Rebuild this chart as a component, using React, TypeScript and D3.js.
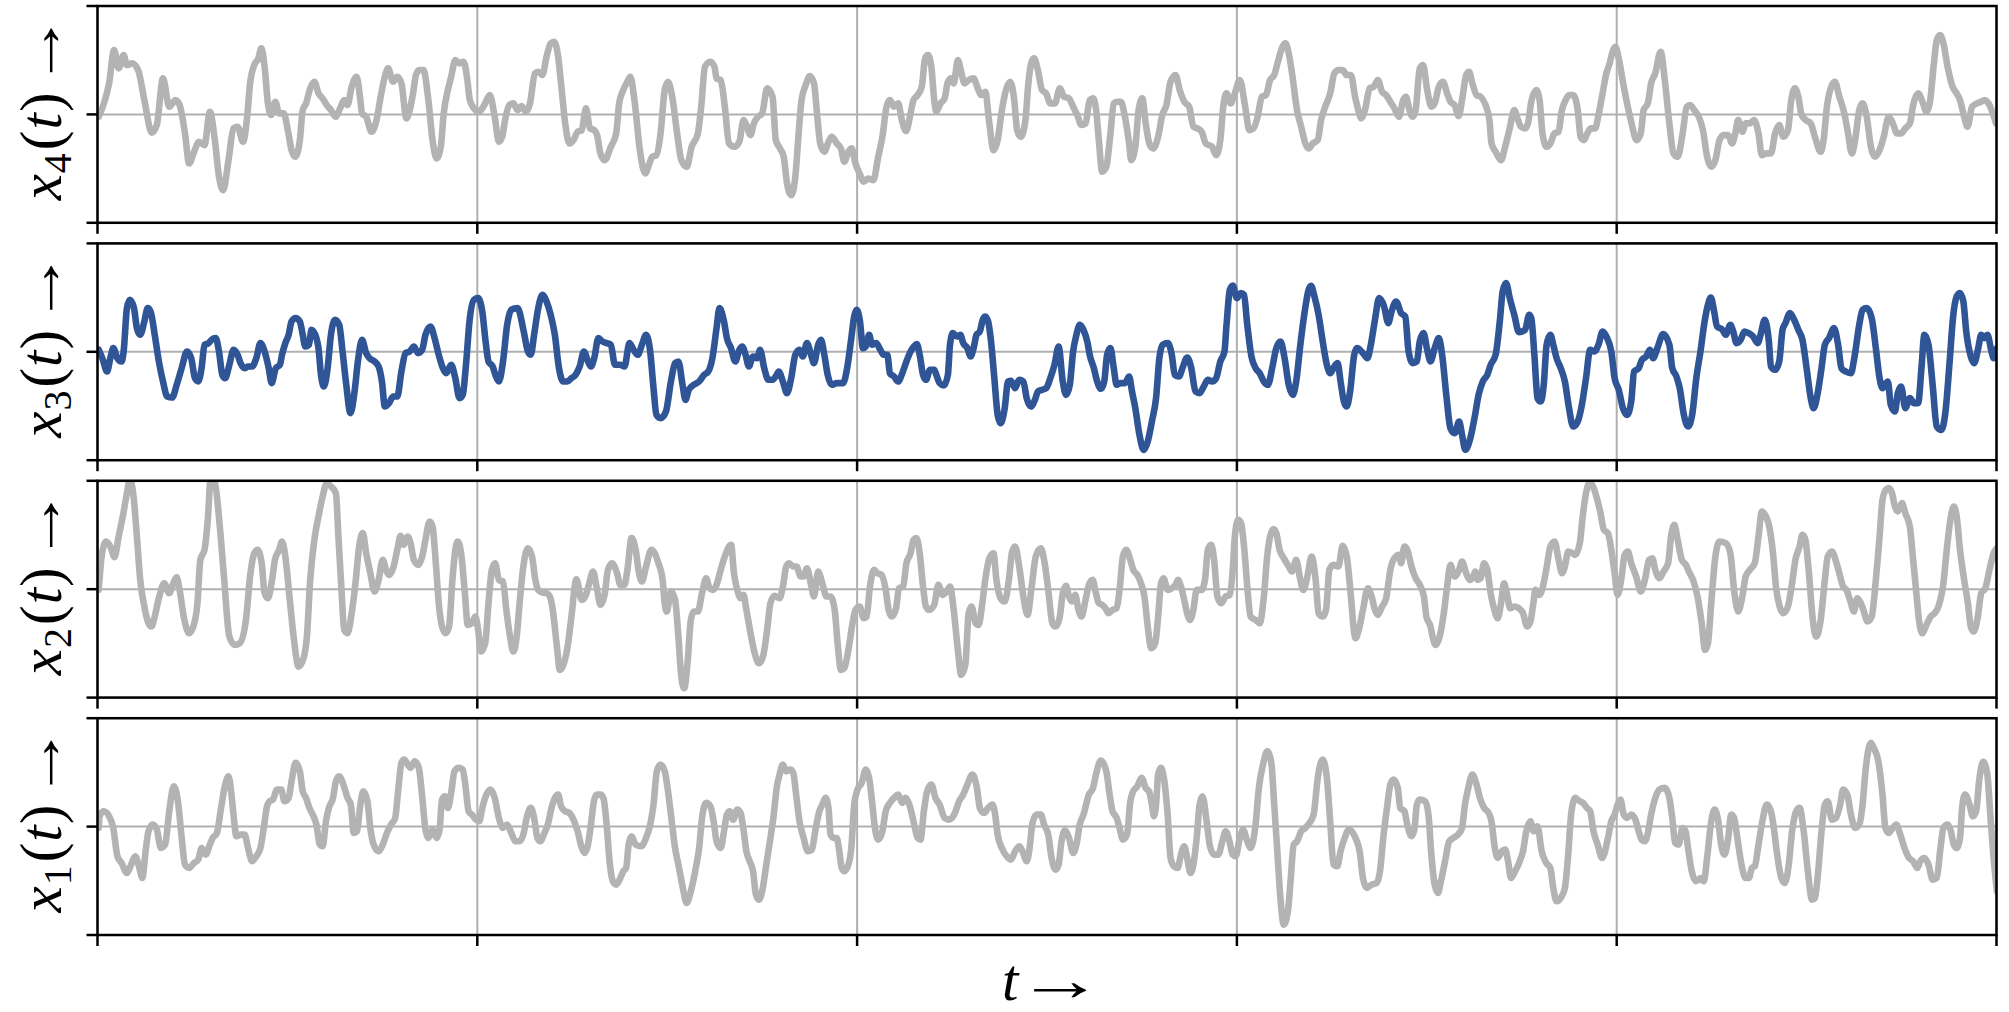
import React, { useLayoutEffect, useRef, useState } from "react";
import * as d3 from "d3";

// time axis (samples) and value axis
const T_DOMAIN: [number, number] = [0, 4580];
const V_DOMAIN: [number, number] = [-3.25, 3.25];
const T_TICKS = [0, 916, 1832, 2748, 3664, 4580];
const V_TICKS = [-3.25, 0, 3.25];

const x4: [number, number][] = [
[3,-0.07],[18,0.43],[28,0.93],[40,1.93],[51,1.38],[63,1.78],[71,1.48],[83,1.53],[98,1.33],[113,0.43],[131,-0.55],[143,-0.32],[158,1.08],[173,0.23],[188,0.43],[198,0.28],[211,-0.57],[221,-1.47],[233,-1.12],[245,-0.82],[258,-0.92],[271,0.08],[283,-0.77],[293,-1.87],[303,-2.27],[316,-1.37],[328,-0.42],[338,-0.37],[351,-0.82],[361,-0.07],[368,0.93],[378,1.48],[388,1.68],[395,1.98],[403,1.43],[411,0.33],[419,-0.02],[429,0.38],[438,0.03],[449,0.03],[459,-0.47],[468,-1.07],[477,-1.27],[488,-0.77],[495,0.13],[503,0.33],[513,0.78],[523,0.98],[533,0.63],[543,0.48],[553,0.28],[563,0.13],[575,-0.07],[585,0.18],[595,0.43],[603,0.28],[613,0.83],[625,1.13],[633,0.53],[638,0.03],[648,-0.07],[661,-0.52],[673,-0.17],[683,0.53],[693,1.13],[701,1.38],[713,0.98],[723,1.13],[733,0.93],[745,-0.12],[753,0.13],[761,0.63],[768,1.18],[776,1.33],[786,1.33],[798,0.43],[808,-0.77],[818,-1.32],[828,-0.97],[835,0.03],[845,0.73],[853,1.13],[863,1.63],[873,1.53],[883,1.58],[891,1.13],[898,0.43],[908,0.18],[918,0.08],[925,0.13],[935,0.33],[946,0.58],[958,-0.07],[968,-0.82],[976,-0.67],[983,-0.17],[993,0.28],[1003,0.33],[1013,0.13],[1023,0.25],[1033,0.08],[1043,0.33],[1055,1.23],[1063,1.28],[1073,1.18],[1083,1.73],[1093,2.13],[1101,2.18],[1111,1.73],[1118,0.93],[1128,-0.27],[1138,-0.87],[1148,-0.77],[1158,-0.52],[1168,-0.47],[1178,0.18],[1188,-0.42],[1198,-0.47],[1205,-0.62],[1213,-1.17],[1223,-1.37],[1238,-0.97],[1251,-0.57],[1258,0.33],[1268,0.73],[1278,0.98],[1285,1.13],[1295,0.43],[1308,-1.07],[1321,-1.77],[1331,-1.47],[1338,-1.27],[1348,-1.22],[1358,-0.57],[1368,0.73],[1376,0.98],[1386,0.53],[1398,-0.57],[1408,-1.37],[1421,-1.57],[1433,-0.97],[1448,-0.57],[1456,0.23],[1465,1.43],[1478,1.58],[1488,1.43],[1493,1.08],[1503,1.03],[1513,0.23],[1523,-0.87],
[1536,-0.97],[1548,-0.82],[1558,-0.17],[1565,-0.32],[1575,-0.62],[1583,-0.27],[1593,-0.07],[1603,0.03],[1615,0.78],[1628,0.53],[1636,-0.77],[1646,-1.02],[1655,-1.27],[1663,-2.07],[1673,-2.42],[1683,-1.87],[1691,-0.57],[1698,0.43],[1708,0.88],[1718,1.15],[1728,0.93],[1736,-0.07],[1743,-0.87],[1753,-1.12],[1763,-0.82],[1771,-0.67],[1783,-0.87],[1793,-1.02],[1801,-1.42],[1811,-1.12],[1819,-1.02],[1828,-1.47],[1838,-1.77],[1848,-2.02],[1858,-1.92],[1871,-1.97],[1883,-1.27],[1893,-0.67],[1903,0.23],[1911,0.43],[1921,0.23],[1931,0.33],[1940,-0.17],[1950,-0.5],[1961,0.03],[1968,0.43],[1978,0.58],[1988,0.83],[1996,1.68],[2003,1.78],[2011,1.43],[2018,0.43],[2023,0.08],[2033,0.33],[2043,0.48],[2051,0.98],[2059,1.08],[2065,0.93],[2075,1.63],[2083,1.28],[2091,0.93],[2101,1.03],[2113,1.08],[2123,0.78],[2131,0.58],[2141,0.68],[2151,-0.27],[2161,-1.07],[2171,-0.77],[2180,0.03],[2191,0.73],[2201,0.98],[2211,0.43],[2218,-0.47],[2227,-0.67],[2238,-0.17],[2245,0.93],[2253,1.58],[2259,1.68],[2268,1.33],[2278,0.73],[2288,0.63],[2298,0.33],[2309,0.33],[2321,0.78],[2331,0.53],[2343,0.48],[2353,0.23],[2363,-0.02],[2373,-0.32],[2383,-0.27],[2393,0.43],[2401,0.48],[2408,0.18],[2415,-0.77],[2423,-1.72],[2433,-1.57],[2443,-0.57],[2451,0.33],[2461,0.38],[2468,0.38],[2478,-0.07],[2488,-0.87],[2493,-1.37],[2503,-0.97],[2511,0.13],[2520,0.48],[2528,-0.27],[2538,-0.92],[2546,-1.02],[2558,-0.67],[2568,-0.02],[2578,0.28],[2588,0.98],[2600,1.18],[2610,0.73],[2621,0.38],[2633,0.23],[2643,-0.37],[2653,-0.42],[2663,-0.52],[2673,-0.87],[2688,-0.97],[2698,-1.22],[2708,-0.77],[2715,0.23],[2723,0.63],[2733,0.33],[2743,0.63],[2755,1.03],[2768,0.23],[2778,-0.47],[2788,-0.42],[2798,-0.07],[2808,0.53],[2818,0.58],[2828,1.03],[2838,1.18],[2848,1.63],[2858,2.03],[2865,2.13],[2873,1.83],[2881,1.23],[2893,0.13],[2903,-0.37],[2913,-0.87],[2921,-1.02],[2931,-0.87],[2943,-0.77],[2951,-0.17],[2961,0.23],[2973,0.63],[2983,1.23],[2993,1.33],[3003,1.33],[3013,1.18],[3023,1.18],[3033,0.53],[3043,0.03],
[3047,-0.12],[3057,0.13],[3068,0.78],[3078,0.83],[3088,1.03],[3098,0.68],[3108,0.58],[3118,0.38],[3128,0.18],[3139,-0.07],[3149,0.43],[3156,0.53],[3164,0.13],[3172,-0.07],[3179,0.13],[3189,1.38],[3197,1.48],[3207,0.73],[3217,0.23],[3225,0.33],[3235,0.83],[3245,0.98],[3255,0.63],[3263,0.38],[3273,0.28],[3283,-0.05],[3291,0.43],[3301,1.18],[3308,1.28],[3316,0.93],[3326,0.58],[3336,0.53],[3346,0.33],[3357,-0.17],[3362,-0.87],[3372,-1.12],[3385,-1.37],[3395,-0.97],[3405,-0.47],[3417,0.13],[3426,-0.17],[3433,-0.37],[3443,-0.42],[3450,-0.27],[3458,0.38],[3470,0.73],[3478,0.43],[3485,-0.57],[3495,-0.97],[3504,-0.87],[3514,-0.57],[3524,-0.52],[3531,0.08],[3541,0.43],[3549,0.58],[3559,0.58],[3570,0.13],[3577,-0.67],[3585,-0.77],[3593,-0.57],[3602,-0.42],[3612,-0.42],[3620,-0.02],[3630,0.63],[3639,1.23],[3647,1.53],[3653,1.83],[3661,2.03],[3669,1.68],[3679,0.98],[3689,0.33],[3699,-0.22],[3712,-0.77],[3722,-0.57],[3729,0.13],[3739,0.33],[3747,0.93],[3757,1.23],[3770,1.88],[3780,1.03],[3791,-0.27],[3801,-1.17],[3811,-1.27],[3823,-0.57],[3833,0.23],[3841,0.28],[3851,0.13],[3862,-0.07],[3872,-0.47],[3882,-1.27],[3892,-1.57],[3902,-1.37],[3912,-0.77],[3922,-0.62],[3933,-0.62],[3942,-0.87],[3950,-0.57],[3957,-0.17],[3967,-0.52],[3975,-0.27],[3985,-0.27],[3995,-0.17],[4006,-0.57],[4014,-1.22],[4026,-1.17],[4036,-1.17],[4046,-0.57],[4056,-0.32],[4066,-0.67],[4077,-0.47],[4085,0.43],[4094,0.78],[4102,0.53],[4110,-0.02],[4120,-0.17],[4132,-0.27],[4142,-0.67],[4156,-1.12],[4163,-0.77],[4171,0.23],[4180,0.78],[4190,0.98],[4201,0.53],[4213,0.03],[4222,-0.57],[4231,-1.17],[4239,-0.77],[4249,0.13],[4257,0.33],[4267,-0.07],[4277,-0.97],[4287,-1.27],[4298,-1.07],[4308,-0.67],[4320,-0.07],[4330,-0.27],[4340,-0.57],[4350,-0.57],[4360,-0.42],[4371,-0.27],[4379,0.28],[4391,0.63],[4403,0.33],[4411,0.08],[4419,0.33],[4429,1.53],[4436,2.23],[4444,2.38],[4452,2.13],[4462,1.43],[4474,0.83],[4484,0.63],[4492,0.43],[4502,-0.07],[4510,-0.37],[4521,0.23],[4533,0.33],[4543,0.38],[4551,0.43],[4563,0.28],[4571,0.03],[4579,-0.27]
];

const x3: [number, number][] = [
[3,0.06],[13,-0.24],[23,-0.59],[31,-0.19],[38,0.11],[48,-0.19],[58,-0.29],[63,0.01],[71,1.31],[78,1.56],[88,1.31],[95,0.71],[103,0.51],[113,0.91],[121,1.31],[128,1.21],[138,0.51],[148,-0.29],[158,-0.89],[168,-1.34],[180,-1.37],[191,-0.99],[203,-0.49],[216,0.01],[226,-0.19],[235,-0.79],[243,-0.89],[251,-0.49],[258,0.21],[268,0.26],[275,0.36],[285,0.41],[293,0.01],[301,-0.69],[308,-0.79],[318,-0.39],[328,0.06],[338,-0.09],[345,-0.34],[355,-0.49],[363,-0.44],[373,-0.44],[383,-0.19],[393,0.26],[403,0.01],[413,-0.49],[420,-0.94],[430,-0.49],[440,-0.39],[445,-0.09],[453,0.26],[461,0.51],[468,0.91],[478,1.01],[488,0.91],[495,0.51],[501,0.16],[510,0.21],[516,0.66],[528,0.41],[533,0.11],[539,-0.69],[546,-1.04],[555,-0.49],[563,0.51],[573,0.96],[583,0.81],[591,0.01],[600,-0.99],[610,-1.84],[620,-1.19],[628,-0.29],[638,0.36],[648,-0.04],[656,-0.19],[668,-0.29],[678,-0.44],[686,-0.89],[693,-1.64],[703,-1.54],[713,-1.34],[723,-1.34],[733,-0.59],[743,-0.04],[753,0.01],[763,0.16],[773,-0.04],[783,0.06],[791,0.51],[803,0.76],[813,0.41],[823,-0.09],[833,-0.49],[841,-0.64],[853,-0.39],[863,-0.79],[873,-1.39],[881,-1.29],[888,-0.49],[898,1.01],[908,1.56],[918,1.61],[928,1.21],[936,0.31],[943,-0.29],[953,-0.44],[961,-0.74],[968,-0.89],[978,-0.29],[988,0.81],[998,1.26],[1013,1.31],[1028,0.61],[1038,0.01],[1045,-0.09],[1053,0.51],[1063,1.31],[1073,1.71],[1083,1.51],[1093,1.11],[1103,0.51],[1113,-0.49],[1123,-0.89],[1133,-0.89],[1143,-0.79],[1153,-0.69],[1163,-0.44],[1173,0.01],[1183,-0.29],[1190,-0.44],[1198,-0.19],[1208,0.41],[1218,0.31],[1228,0.26],[1238,0.21],[1248,-0.39],[1260,-0.39],[1271,-0.44],[1283,0.26],[1293,0.06],[1303,-0.09],[1313,0.21],[1323,0.51],[1333,0.01],[1341,-1.09],[1348,-1.89],[1358,-1.99],[1371,-1.79],[1383,-0.89],[1393,-0.34],[1401,-0.29],[1411,-0.99],[1418,-1.44],[1426,-1.14],[1438,-0.99],[1451,-0.89],[1463,-0.69],[1473,-0.59],[1483,-0.19],[1493,0.71],[1500,1.31],
[1511,0.91],[1518,0.41],[1528,0.11],[1538,-0.29],[1548,0.06],[1555,0.16],[1563,-0.09],[1571,-0.44],[1581,-0.14],[1591,-0.19],[1598,0.06],[1608,-0.49],[1618,-0.84],[1628,-0.84],[1638,-0.69],[1643,-0.59],[1653,-0.89],[1663,-1.24],[1673,-0.79],[1683,-0.09],[1693,0.06],[1701,-0.14],[1711,0.26],[1721,-0.09],[1728,-0.34],[1738,0.21],[1745,0.36],[1753,-0.09],[1761,-0.69],[1771,-0.99],[1783,-0.94],[1798,-0.94],[1808,-0.49],[1818,0.41],[1825,1.06],[1831,1.26],[1839,0.91],[1846,0.11],[1853,0.16],[1861,0.51],[1868,0.21],[1878,0.26],[1888,0.06],[1896,-0.09],[1905,-0.09],[1911,-0.64],[1921,-0.74],[1931,-0.89],[1941,-0.64],[1951,-0.29],[1961,0.01],[1969,0.16],[1976,0.23],[1983,-0.09],[1991,-0.69],[1998,-0.84],[2008,-0.54],[2018,-0.54],[2023,-0.69],[2031,-0.94],[2041,-1.01],[2051,-0.69],[2056,0.21],[2063,0.56],[2073,0.46],[2081,0.51],[2088,0.26],[2098,0.11],[2106,-0.14],[2113,0.11],[2120,0.51],[2128,0.61],[2135,0.96],[2141,1.06],[2148,0.91],[2155,0.31],[2163,-0.79],[2171,-1.89],[2178,-2.14],[2188,-1.69],[2196,-0.89],[2203,-0.87],[2213,-1.09],[2223,-0.84],[2233,-0.89],[2241,-1.39],[2251,-1.64],[2261,-1.44],[2268,-1.19],[2278,-1.14],[2288,-1.09],[2298,-0.79],[2308,-0.39],[2318,0.16],[2328,-0.89],[2336,-1.29],[2345,-0.99],[2353,0.01],[2361,0.51],[2369,0.81],[2378,0.66],[2388,0.26],[2393,-0.09],[2403,-0.49],[2411,-0.89],[2420,-1.11],[2428,-0.89],[2435,-0.09],[2443,0.11],[2451,-0.49],[2458,-0.99],[2468,-0.94],[2478,-0.94],[2488,-0.74],[2495,-1.19],[2503,-1.69],[2513,-2.49],[2523,-2.94],[2533,-2.69],[2543,-2.09],[2553,-1.39],[2561,-0.19],[2569,0.21],[2581,0.26],[2591,-0.09],[2598,-0.69],[2608,-0.74],[2618,-0.44],[2628,-0.17],[2638,-0.49],[2648,-1.19],[2658,-1.24],[2668,-1.04],[2678,-0.84],[2688,-0.89],[2698,-0.79],[2708,-0.29],[2718,0.01],[2723,0.81],[2731,1.86],[2738,1.99],[2748,1.61],[2758,1.76],[2765,1.71],[2773,0.81],[2783,-0.14],[2793,-0.49],[2803,-0.64],[2813,-0.89],[2823,-0.99],[2833,-0.49],[2843,0.11],[2853,0.31],[2863,-0.19],[2873,-0.99],[2883,-1.29],[2891,-0.89],[2901,0.21],[2911,1.16],[2921,1.86],[2927,1.98],[2935,1.66],[2945,1.11],[2955,0.31],[2965,-0.39],[2973,-0.64],[2983,-0.44],[2991,-0.34],[2998,-0.89],[3006,-1.49],[3013,-1.64],[3021,-1.19],[3031,-0.09],[3038,0.11],
[3052,-0.04],[3063,-0.19],[3071,0.21],[3081,0.96],[3091,1.61],[3103,1.36],[3113,0.86],[3121,1.21],[3132,1.51],[3144,1.16],[3154,1.06],[3162,0.01],[3172,-0.34],[3182,-0.29],[3189,0.31],[3198,0.56],[3207,0.06],[3215,-0.29],[3225,0.11],[3235,0.41],[3243,-0.09],[3253,-1.29],[3263,-2.29],[3273,-2.44],[3284,-2.09],[3291,-2.49],[3299,-2.94],[3311,-2.59],[3321,-1.99],[3331,-1.29],[3341,-0.89],[3352,-0.69],[3360,-0.39],[3372,-0.09],[3382,0.91],[3389,1.81],[3397,2.06],[3407,1.56],[3417,1.11],[3428,0.59],[3443,0.66],[3453,1.11],[3458,1.01],[3466,-0.19],[3473,-1.39],[3481,-1.49],[3488,-0.99],[3495,0.21],[3504,0.51],[3512,0.16],[3519,-0.19],[3529,-0.49],[3539,-0.89],[3549,-1.69],[3559,-2.24],[3570,-2.09],[3580,-1.59],[3590,-0.79],[3600,0.06],[3610,0.01],[3620,0.21],[3630,0.61],[3641,0.41],[3651,0.01],[3659,-0.79],[3669,-1.14],[3679,-1.69],[3689,-1.89],[3699,-1.49],[3706,-0.59],[3717,-0.49],[3725,-0.24],[3735,-0.14],[3744,0.06],[3752,-0.19],[3762,0.11],[3776,0.53],[3791,0.21],[3798,-0.49],[3808,-0.74],[3816,-1.09],[3826,-1.89],[3836,-2.24],[3846,-1.89],[3856,-0.79],[3866,0.01],[3876,0.91],[3884,1.41],[3891,1.63],[3899,1.21],[3906,0.76],[3919,0.66],[3927,0.51],[3938,0.81],[3945,0.61],[3953,0.26],[3963,0.36],[3972,0.61],[3982,0.56],[3993,0.46],[4004,0.26],[4011,0.51],[4021,0.96],[4031,0.31],[4036,-0.44],[4046,-0.54],[4056,-0.29],[4064,0.66],[4071,0.86],[4082,1.16],[4092,0.96],[4102,0.66],[4112,0.36],[4122,-0.49],[4132,-1.39],[4139,-1.69],[4148,-1.29],[4158,-0.49],[4166,0.21],[4176,0.41],[4188,0.71],[4198,0.21],[4206,-0.49],[4216,-0.59],[4229,-0.64],[4237,-0.19],[4249,0.81],[4257,1.26],[4267,1.31],[4279,1.01],[4289,0.11],[4298,-0.79],[4305,-1.09],[4318,-0.89],[4325,-1.59],[4335,-1.79],[4342,-1.24],[4350,-1.04],[4360,-1.69],[4371,-1.39],[4381,-1.54],[4391,-1.54],[4399,-0.49],[4406,0.51],[4416,0.21],[4426,-0.99],[4436,-2.24],[4447,-2.34],[4457,-1.79],[4467,-0.29],[4475,1.01],[4484,1.66],[4492,1.76],[4500,1.51],[4507,0.61],[4518,-0.14],[4526,-0.34],[4536,0.11],[4543,0.51],[4551,0.41],[4558,0.51],[4568,0.01],[4573,-0.19],[4581,0.11]
];

const x2: [number, number][] = [
[3,-0.02],[11,1.08],[21,1.43],[31,1.28],[41,0.96],[51,1.58],[61,2.18],[71,2.88],[78,3.28],[86,2.88],[95,1.58],[103,0.28],[113,-0.52],[123,-1.02],[130,-1.12],[138,-0.82],[148,-0.27],[161,0.18],[173,-0.12],[183,0.18],[191,0.36],[198,-0.02],[208,-0.82],[221,-1.32],[231,-1.12],[241,-0.42],[248,0.88],[258,1.18],[266,2.08],[273,3.33],[283,3.18],[295,1.88],[305,0.38],[318,-1.42],[331,-1.67],[343,-1.62],[358,-0.92],[368,0.38],[378,1.08],[386,1.18],[396,0.78],[403,-0.12],[411,-0.27],[421,0.28],[428,0.88],[438,1.18],[445,1.43],[453,0.98],[463,-0.22],[473,-1.42],[485,-2.32],[498,-2.02],[505,-1.42],[513,0.28],[523,1.48],[533,2.18],[543,2.78],[553,3.18],[563,3.08],[575,2.88],[581,1.58],[588,0.08],[595,-1.22],[603,-1.32],[613,-0.72],[623,0.28],[631,1.28],[640,1.68],[648,1.08],[658,0.48],[668,-0.07],[678,0.28],[688,0.88],[696,0.58],[703,0.43],[713,0.63],[723,1.18],[731,1.6],[738,1.33],[748,1.58],[755,1.38],[763,0.88],[773,0.73],[783,0.98],[791,1.48],[801,2.03],[808,1.88],[816,0.78],[823,-0.42],[831,-1.12],[840,-1.32],[848,-1.12],[856,0.28],[863,1.18],[869,1.43],[878,0.98],[886,-0.12],[893,-1.07],[903,-1.02],[911,-0.82],[918,-1.22],[925,-1.87],[935,-1.62],[943,-0.42],[951,0.58],[959,0.78],[968,0.28],[978,0.23],[986,-0.62],[995,-1.42],[1003,-1.87],[1011,-1.42],[1018,-0.42],[1026,0.58],[1038,1.23],[1048,0.98],[1056,0.28],[1063,-0.02],[1073,-0.1],[1083,-0.12],[1091,-0.22],[1098,-0.62],[1108,-1.72],[1115,-2.42],[1125,-2.22],[1135,-1.62],[1143,-0.82],[1155,0.3],[1168,-0.32],[1178,-0.17],[1186,0.18],[1195,0.53],[1205,-0.02],[1213,-0.47],[1223,-0.17],[1231,0.58],[1241,0.78],[1253,0.48],[1261,0.13],[1271,0.13],[1278,0.58],[1288,1.53],[1298,1.18],[1306,0.48],[1313,0.23],[1323,0.68],[1336,1.18],[1353,0.78],[1363,0.28],[1368,-0.42],[1373,-0.67],[1383,-0.07],[1393,-0.32],[1401,-1.42],[1408,-2.62],[1415,-2.97],[1423,-2.22],[1431,-0.92],[1438,-0.67],[1448,-0.67],[1458,-0.12],[1468,0.33],[1476,0.03],[1483,-0.02],[1493,0.13],[1503,0.58],[1513,0.98],[1528,1.33],
[1535,0.48],[1543,-0.02],[1551,-0.27],[1558,-0.17],[1565,-0.62],[1575,-1.32],[1585,-1.92],[1595,-2.22],[1605,-2.02],[1615,-1.22],[1623,-0.42],[1633,-0.2],[1645,-0.27],[1653,0.08],[1661,0.68],[1668,0.78],[1678,0.68],[1686,0.68],[1696,0.38],[1703,0.38],[1711,0.63],[1721,0.13],[1728,-0.22],[1738,0.53],[1748,0.18],[1758,-0.22],[1768,-0.22],[1778,-0.62],[1785,-1.62],[1793,-2.42],[1801,-2.37],[1811,-1.82],[1821,-1.02],[1828,-0.62],[1838,-0.52],[1848,-0.87],[1855,-0.82],[1863,0.08],[1873,0.58],[1881,0.48],[1891,0.43],[1901,-0.02],[1908,-0.62],[1916,-0.82],[1926,-0.57],[1933,0.03],[1943,0.08],[1951,0.78],[1961,1.08],[1968,1.48],[1975,1.53],[1983,1.08],[1991,0.08],[1998,-0.52],[2005,-0.62],[2018,-0.47],[2028,0.13],[2038,-0.17],[2048,-0.07],[2056,0.08],[2065,-0.62],[2075,-1.82],[2083,-2.57],[2093,-2.27],[2101,-0.72],[2108,-0.52],[2118,-1.02],[2125,-1.07],[2133,-0.52],[2141,0.28],[2151,0.93],[2161,1.08],[2168,0.28],[2178,-0.27],[2188,-0.37],[2198,0.28],[2206,1.13],[2213,1.28],[2223,0.68],[2233,-0.22],[2243,-0.77],[2253,0.08],[2263,0.98],[2275,1.23],[2283,0.88],[2293,-0.02],[2303,-1.02],[2311,-1.12],[2321,-0.82],[2328,-0.12],[2336,0.1],[2343,-0.22],[2351,-0.37],[2358,-0.17],[2366,-0.62],[2373,-0.82],[2383,-0.32],[2391,0.13],[2400,0.28],[2408,-0.12],[2415,-0.42],[2423,-0.47],[2431,-0.57],[2438,-0.72],[2448,-0.62],[2458,-0.57],[2465,-0.02],[2473,0.98],[2481,1.18],[2491,0.88],[2498,0.58],[2508,0.43],[2518,0.13],[2525,-0.22],[2533,-1.12],[2541,-1.77],[2551,-1.62],[2558,-0.82],[2565,0.18],[2571,0.33],[2581,-0.02],[2591,0.03],[2600,0.13],[2606,0.28],[2613,0.08],[2621,-0.32],[2628,-0.72],[2635,-0.92],[2643,-0.62],[2651,-0.02],[2663,-0.02],[2671,0.28],[2678,1.18],[2686,1.33],[2693,0.88],[2701,-0.22],[2710,-0.42],[2721,-0.22],[2731,-0.17],[2738,0.58],[2743,1.58],[2751,2.08],[2758,1.98],[2766,1.18],[2773,0.08],[2781,-0.82],[2793,-0.92],[2803,-1.02],[2813,-0.22],[2821,0.98],[2828,1.58],[2836,1.8],[2843,1.68],[2851,1.18],[2861,0.93],[2873,0.68],[2881,0.53],[2891,0.88],[2901,0.28],[2908,-0.02],[2918,0.38],[2928,0.98],[2938,0.28],[2945,-0.72],[2955,-0.82],[2963,-0.62],[2971,0.58],[2981,0.73],[2993,0.68],[3003,1.3],[3013,0.98],[3023,-0.22],[3031,-1.32],
[3034,-1.47],[3042,-1.22],[3052,-0.62],[3064,0.03],[3073,-0.22],[3081,-0.62],[3088,-0.77],[3098,-0.52],[3108,-0.27],[3118,0.58],[3128,0.93],[3139,1.03],[3144,0.78],[3152,1.28],[3159,1.18],[3169,0.68],[3179,0.33],[3189,0.13],[3199,-0.22],[3205,-0.82],[3215,-1.12],[3220,-1.42],[3227,-1.67],[3237,-1.42],[3247,-0.72],[3255,0.08],[3263,0.73],[3273,0.38],[3284,0.58],[3291,0.83],[3301,0.48],[3309,0.28],[3318,0.38],[3323,0.53],[3329,0.28],[3336,0.33],[3344,0.78],[3352,0.58],[3360,-0.12],[3369,-0.62],[3377,-0.87],[3385,-0.42],[3392,0.18],[3399,-0.12],[3407,-0.57],[3417,-0.52],[3428,-0.57],[3438,-0.72],[3448,-1.12],[3456,-0.97],[3463,-0.42],[3468,-0.02],[3478,-0.17],[3486,0.08],[3494,0.58],[3504,1.28],[3514,1.43],[3524,0.88],[3532,0.48],[3539,0.68],[3547,1.13],[3557,1.08],[3564,1.03],[3575,1.38],[3582,2.18],[3590,2.88],[3598,3.18],[3605,3.13],[3615,2.78],[3625,2.28],[3633,1.78],[3643,1.68],[3651,1.18],[3659,0.48],[3666,-0.17],[3676,0.38],[3683,1.03],[3691,1.13],[3699,0.78],[3711,0.38],[3722,-0.07],[3732,0.28],[3742,0.88],[3750,0.93],[3757,0.58],[3767,0.33],[3777,0.53],[3788,0.78],[3795,1.58],[3803,1.93],[3811,1.48],[3821,0.88],[3831,0.73],[3838,0.53],[3848,0.28],[3859,-0.22],[3869,-1.02],[3877,-1.82],[3884,-1.62],[3892,-0.42],[3902,0.98],[3912,1.43],[3927,1.38],[3938,1.08],[3948,-0.12],[3957,-0.67],[3967,-0.22],[3975,0.38],[3985,0.58],[3997,0.78],[4006,1.58],[4014,2.33],[4024,2.18],[4031,1.93],[4041,1.08],[4048,0.08],[4056,-0.47],[4066,-0.72],[4077,-0.52],[4087,0.18],[4095,0.88],[4105,1.28],[4112,1.63],[4119,1.48],[4127,0.58],[4137,-0.92],[4145,-1.42],[4156,-0.92],[4166,0.28],[4173,0.98],[4183,1.13],[4193,0.83],[4203,0.38],[4210,0.08],[4218,-0.02],[4229,-0.42],[4236,-0.67],[4244,-0.27],[4251,-0.37],[4259,-0.62],[4269,-0.97],[4279,-0.82],[4289,0.28],[4298,1.58],[4305,2.68],[4313,2.98],[4320,3.03],[4328,2.88],[4335,2.48],[4342,2.33],[4352,2.58],[4360,2.28],[4371,1.88],[4379,0.88],[4386,-0.02],[4393,-0.92],[4401,-1.32],[4411,-1.07],[4421,-0.82],[4431,-0.72],[4440,-0.52],[4452,0.18],[4460,1.18],[4470,2.18],[4477,2.48],[4484,2.18],[4492,1.18],[4502,0.28],[4511,-0.42],[4518,-1.12],[4525,-1.27],[4535,-0.82],[4543,-0.12],[4553,0.03],[4563,0.58],[4573,1.08],[4581,1.23]
];

const x1: [number, number][] = [
[3,-0.04],[5,0.31],[15,0.46],[28,0.31],[38,-0.04],[48,-0.89],[58,-1.09],[71,-1.39],[81,-1.14],[91,-0.89],[101,-1.24],[108,-1.54],[116,-0.74],[123,-0.14],[133,0.06],[143,-0.09],[153,-0.64],[163,-0.54],[173,0.46],[184,1.21],[195,0.66],[203,-0.34],[211,-1.14],[221,-1.24],[233,-1.09],[243,-0.99],[251,-0.64],[261,-0.84],[271,-0.54],[278,-0.34],[288,-0.19],[298,0.56],[308,1.26],[316,1.51],[323,0.96],[328,0.36],[335,-0.29],[345,-0.24],[355,-0.24],[363,-0.64],[373,-1.04],[383,-0.89],[393,-0.64],[401,-0.04],[408,0.56],[415,0.76],[423,0.81],[433,1.11],[443,1.11],[451,0.76],[461,0.86],[468,1.36],[478,1.91],[488,1.66],[495,1.06],[503,0.86],[511,0.56],[521,0.31],[528,0.06],[536,-0.54],[543,-0.59],[551,0.16],[558,0.56],[568,0.86],[575,1.36],[583,1.51],[593,1.26],[603,0.86],[611,0.66],[618,-0.19],[626,-0.14],[633,0.56],[641,1.06],[651,0.76],[658,-0.04],[666,-0.54],[678,-0.74],[688,-0.54],[698,-0.19],[708,0.06],[718,0.26],[725,1.06],[733,1.91],[740,2.01],[748,1.86],[755,1.76],[765,1.96],[775,1.76],[783,0.91],[791,-0.09],[798,-0.34],[808,-0.09],[818,-0.34],[825,-0.09],[831,0.81],[838,0.91],[845,0.56],[853,1.01],[861,1.66],[871,1.76],[881,1.71],[888,1.16],[895,0.46],[903,0.36],[913,0.21],[921,0.16],[928,0.56],[938,0.96],[948,1.11],[958,0.86],[968,0.26],[978,-0.04],[988,0.06],[998,-0.19],[1008,-0.44],[1018,-0.44],[1028,-0.19],[1035,0.26],[1045,0.56],[1053,0.26],[1061,-0.34],[1068,-0.44],[1078,-0.19],[1086,0.06],[1095,0.56],[1103,0.86],[1111,0.96],[1118,0.61],[1128,0.46],[1138,0.41],[1148,0.21],[1158,-0.14],[1168,-0.64],[1175,-0.79],[1183,-0.54],[1191,0.16],[1198,0.81],[1205,0.96],[1213,0.96],[1220,0.86],[1228,0.06],[1235,-1.04],[1243,-1.64],[1251,-1.74],[1261,-1.54],[1268,-1.34],[1275,-1.24],[1281,-0.54],[1288,-0.29],[1298,-0.54],[1311,-0.59],[1323,-0.34],[1333,0.06],[1341,0.66],[1349,1.66],[1358,1.86],[1368,1.66],[1376,1.06],[1383,0.36],[1393,-0.64],[1401,-1.14],[1411,-1.79],[1421,-2.29],[1431,-1.94],[1443,-1.24],[1451,-0.64],[1458,0.26],[1468,0.71],[1478,0.61],[1486,0.16],[1493,-0.44],[1503,-0.64],
[1511,-0.14],[1518,0.36],[1525,0.46],[1533,0.21],[1543,0.51],[1551,0.41],[1558,-0.09],[1565,-0.74],[1573,-1.04],[1581,-1.34],[1588,-2.04],[1595,-2.19],[1603,-1.94],[1613,-1.14],[1623,-0.34],[1631,0.36],[1638,1.16],[1645,1.56],[1653,1.86],[1661,1.66],[1671,1.71],[1678,1.61],[1685,0.96],[1693,0.16],[1703,-0.34],[1713,-0.74],[1723,-0.69],[1731,-0.14],[1741,0.46],[1748,0.66],[1756,0.86],[1763,0.56],[1768,-0.24],[1776,-0.34],[1783,-0.34],[1788,-0.64],[1795,-1.24],[1801,-1.34],[1811,-1.14],[1818,-0.64],[1825,0.66],[1833,1.11],[1843,1.31],[1853,1.71],[1861,1.46],[1868,0.76],[1875,-0.04],[1883,-0.39],[1893,-0.14],[1901,0.46],[1911,0.71],[1921,0.86],[1931,0.96],[1941,0.71],[1949,0.86],[1958,0.66],[1968,0.16],[1978,-0.34],[1985,-0.39],[1993,0.46],[2001,1.06],[2011,1.26],[2021,0.86],[2031,0.66],[2043,0.26],[2053,0.21],[2061,0.26],[2068,0.41],[2078,0.76],[2088,0.96],[2098,1.26],[2110,1.56],[2121,1.16],[2128,0.56],[2138,0.41],[2148,0.56],[2158,0.66],[2165,0.36],[2171,-0.24],[2181,-0.64],[2193,-0.89],[2203,-0.99],[2213,-0.74],[2223,-0.59],[2231,-0.74],[2241,-1.04],[2248,-0.64],[2255,0.11],[2265,0.36],[2275,0.36],[2283,0.06],[2293,-0.24],[2301,-0.94],[2311,-1.29],[2318,-1.14],[2325,-0.44],[2333,-0.12],[2343,-0.34],[2353,-0.79],[2361,-0.54],[2369,0.06],[2378,0.36],[2391,0.96],[2401,1.16],[2408,1.56],[2420,1.98],[2433,1.66],[2441,0.96],[2448,0.46],[2458,0.26],[2465,-0.04],[2473,-0.39],[2483,-0.24],[2491,0.76],[2498,1.06],[2508,1.21],[2518,1.46],[2528,1.16],[2536,1.06],[2543,0.66],[2548,0.31],[2553,0.66],[2558,1.56],[2565,1.76],[2573,1.36],[2581,0.36],[2588,-0.94],[2596,-1.19],[2605,-1.24],[2613,-0.84],[2621,-0.59],[2628,-0.94],[2636,-1.39],[2643,-1.14],[2651,-0.34],[2658,0.66],[2665,0.91],[2675,0.16],[2683,-0.59],[2693,-0.84],[2703,-0.84],[2713,-0.44],[2721,-0.14],[2728,-0.34],[2738,-0.84],[2745,-0.89],[2755,-0.34],[2763,-0.09],[2773,-0.44],[2781,-0.64],[2793,0.06],[2801,1.16],[2811,1.86],[2821,2.26],[2831,1.91],[2838,0.66],[2845,-0.64],[2853,-2.14],[2861,-2.94],[2871,-2.54],[2878,-1.54],[2885,-0.54],[2893,-0.44],[2903,-0.14],[2913,-0.04],[2923,0.11],[2933,0.36],[2943,1.46],[2955,2.01],[2965,1.46],[2973,0.16],[2981,-1.14],[2990,-1.19],[2998,-0.74],[3008,-0.34],[3018,-0.09],[3028,-0.19],
[3034,-0.34],[3044,-0.74],[3052,-1.54],[3061,-1.84],[3073,-1.74],[3085,-1.69],[3093,-1.34],[3101,-0.34],[3111,0.66],[3118,1.26],[3126,1.41],[3136,1.16],[3142,0.56],[3152,0.46],[3159,0.06],[3169,-0.29],[3176,-0.09],[3182,0.66],[3189,0.81],[3202,0.76],[3210,0.36],[3217,-0.84],[3225,-1.74],[3233,-1.99],[3240,-1.64],[3250,-1.04],[3260,-0.44],[3270,-0.34],[3281,-0.24],[3291,-0.04],[3298,0.66],[3306,1.16],[3316,1.56],[3326,1.26],[3334,0.86],[3344,0.56],[3355,0.41],[3362,0.16],[3370,-0.64],[3377,-0.94],[3387,-0.74],[3395,-0.69],[3402,-1.04],[3409,-1.54],[3419,-1.34],[3430,-1.04],[3438,-0.74],[3446,-0.14],[3456,0.16],[3464,-0.14],[3473,0.01],[3483,-0.74],[3494,-1.09],[3504,-1.24],[3511,-1.84],[3519,-2.24],[3529,-2.14],[3539,-1.84],[3547,-0.84],[3554,0.36],[3564,0.86],[3575,0.76],[3583,0.71],[3592,0.56],[3600,0.46],[3608,-0.14],[3618,-0.54],[3629,-0.94],[3643,-0.34],[3651,0.16],[3659,0.36],[3666,0.66],[3673,0.81],[3681,0.36],[3689,0.26],[3699,0.36],[3709,0.21],[3717,-0.14],[3724,-0.39],[3732,-0.44],[3740,-0.14],[3747,0.36],[3757,0.86],[3767,1.11],[3780,1.16],[3791,0.86],[3798,0.26],[3805,-0.49],[3813,-0.54],[3823,-0.04],[3830,-0.14],[3836,-0.64],[3845,-1.34],[3855,-1.64],[3866,-1.54],[3874,-1.64],[3882,-0.94],[3892,0.16],[3900,0.51],[3909,0.16],[3916,-0.54],[3924,-0.84],[3933,-0.34],[3940,0.36],[3947,0.26],[3955,-0.34],[3965,-1.14],[3975,-1.54],[3983,-1.54],[3990,-1.24],[3997,-1.19],[4006,-0.54],[4016,0.21],[4026,0.66],[4036,0.46],[4044,-0.14],[4051,-0.84],[4061,-1.54],[4069,-1.69],[4079,-1.14],[4087,-0.14],[4097,0.46],[4105,0.56],[4115,-0.14],[4125,-1.34],[4135,-2.19],[4142,-2.14],[4150,-1.34],[4158,-0.14],[4166,0.66],[4173,0.76],[4183,0.21],[4193,0.26],[4203,0.66],[4210,1.11],[4220,0.96],[4229,0.36],[4239,-0.04],[4249,0.06],[4257,0.66],[4264,1.66],[4272,2.36],[4277,2.51],[4284,2.36],[4295,1.96],[4305,0.96],[4312,-0.04],[4320,-0.19],[4330,-0.04],[4338,0.06],[4348,-0.24],[4358,-0.64],[4369,-0.94],[4379,-1.04],[4389,-1.24],[4396,-1.04],[4406,-0.94],[4416,-1.14],[4426,-1.59],[4436,-1.54],[4444,-0.74],[4452,-0.04],[4462,0.06],[4470,-0.14],[4477,-0.54],[4484,-0.64],[4492,-0.34],[4497,0.56],[4504,0.96],[4515,0.66],[4523,0.31],[4531,0.46],[4538,1.36],[4548,1.94],[4558,1.56],[4565,0.36],[4573,-0.94],[4581,-1.94]
];

const SUBSCRIPTS = ["4", "3", "2", "1"];
const GRAY = "#b3b3b3";
const BLUE = "#2f5597";
const SERIES = [x4, x3, x2, x1];
const COLORS = [GRAY, BLUE, GRAY, GRAY];

const W = 2009;
const H = 1012;
const LEFT = 97.5;
const RIGHT = 1996.5;
const TOP0 = 6;
const STEP = 237.4;
const PH = 216.8;
const TICK = 11;
const FONT = "'Liberation Serif', 'DejaVu Serif', serif";
const FS = 59;
const ARROW = "→";

// visible ink extent of a glyph string (canvas metrics)
function inkExtent(txt: string, fontSize: number): { left: number; right: number } {
  try {
    const ctx = document.createElement("canvas").getContext("2d");
    if (!ctx) return { left: 0, right: fontSize * 0.5 };
    ctx.font = `${fontSize}px ${FONT}`;
    const m = ctx.measureText(txt);
    const l = m.actualBoundingBoxLeft || 0;
    const r = m.actualBoundingBoxRight || m.width;
    return { left: l, right: r };
  } catch (e) {
    return { left: 0, right: fontSize * 0.5 };
  }
}

// A math-style label: main text followed by a long arrow, centred at the origin.
function ArrowLabel({ sub, arrowW, gap }: { sub?: string; arrowW: number; gap: number }) {
  const mainRef = useRef<SVGTextElement>(null);
  const [mainW, setMainW] = useState(0);
  const [ink, setInk] = useState({ left: 0, right: FS * 0.5 });
  useLayoutEffect(() => {
    const a = mainRef.current ? mainRef.current.getBBox().width : 0;
    setMainW(a);
    setInk(inkExtent(ARROW, FS));
  }, [sub]);
  const inkW = Math.max(1, ink.left + ink.right);
  const sx = arrowW / inkW;
  const total = mainW + gap + arrowW;
  const ax = mainW + gap + ink.left * sx;
  return (
    <g transform={`translate(${-total / 2},0)`}>
      <text ref={mainRef} x={0} y={0} fontFamily={FONT} fontSize={FS} fill="#000" letterSpacing={1}>
        {sub ? (
          <>
            <tspan fontStyle="italic">x</tspan>
            <tspan fontSize={40} dy={10}>{sub}</tspan>
            <tspan dy={-10} dx={2}>(</tspan>
            <tspan fontStyle="italic">t</tspan>
            <tspan>)</tspan>
          </>
        ) : (
          <tspan fontStyle="italic">t</tspan>
        )}
      </text>
      <g transform={`translate(${ax},0) scale(${sx},1)`}>
        <text x={0} y={0} fontFamily={FONT} fontSize={FS} fill="#000">
          {ARROW}
        </text>
      </g>
    </g>
  );
}

export default function App() {
  const xs = d3.scaleLinear().domain(T_DOMAIN).range([LEFT, RIGHT]);
  return (
    <svg width={W} height={H} style={{ position: "absolute", left: 0, top: 0, display: "block", background: "#fff" }}>
      <rect x={0} y={0} width={W} height={H} fill="#fff" />
      {SERIES.map((data, i) => {
        const top = TOP0 + i * STEP;
        const bottom = top + PH;
        const ys = d3.scaleLinear().domain(V_DOMAIN).range([bottom, top]);
        const gen = d3
          .line<[number, number]>()
          .x((d) => xs(d[0]))
          .y((d) => ys(d[1]))
          .curve(d3.curveMonotoneX);
        const cid = `clip-${i}`;
        const cy = (top + bottom) / 2;
        return (
          <g key={i}>
            <defs>
              <clipPath id={cid}>
                <rect x={LEFT} y={top} width={RIGHT - LEFT} height={PH} />
              </clipPath>
            </defs>
            {T_TICKS.map((t, k) => (
              <line key={"gx" + k} x1={xs(t)} x2={xs(t)} y1={top} y2={bottom} stroke="#b0b0b0" strokeWidth={2} />
            ))}
            {V_TICKS.map((v, k) => (
              <line key={"gy" + k} x1={LEFT} x2={RIGHT} y1={ys(v)} y2={ys(v)} stroke="#b0b0b0" strokeWidth={2} />
            ))}
            <path
              d={gen(data) || ""}
              fill="none"
              stroke={COLORS[i]}
              strokeWidth={6.6}
              strokeLinejoin="round"
              strokeLinecap="round"
              clipPath={`url(#${cid})`}
            />
            <rect x={LEFT} y={top} width={RIGHT - LEFT} height={PH} fill="none" stroke="#000" strokeWidth={2.5} />
            {T_TICKS.map((t, k) => (
              <line key={"tx" + k} x1={xs(t)} x2={xs(t)} y1={bottom} y2={bottom + TICK} stroke="#000" strokeWidth={2.5} />
            ))}
            {V_TICKS.map((v, k) => (
              <line key={"ty" + k} x1={LEFT - TICK} x2={LEFT} y1={ys(v)} y2={ys(v)} stroke="#000" strokeWidth={2.5} />
            ))}
            <g transform={`translate(61,${cy}) rotate(-90)`}>
              <ArrowLabel sub={SUBSCRIPTS[i]} arrowW={44} gap={18} />
            </g>
          </g>
        );
      })}
      <g transform={`translate(1044,1000)`}>
        <ArrowLabel arrowW={52} gap={14} />
      </g>
    </svg>
  );
}
